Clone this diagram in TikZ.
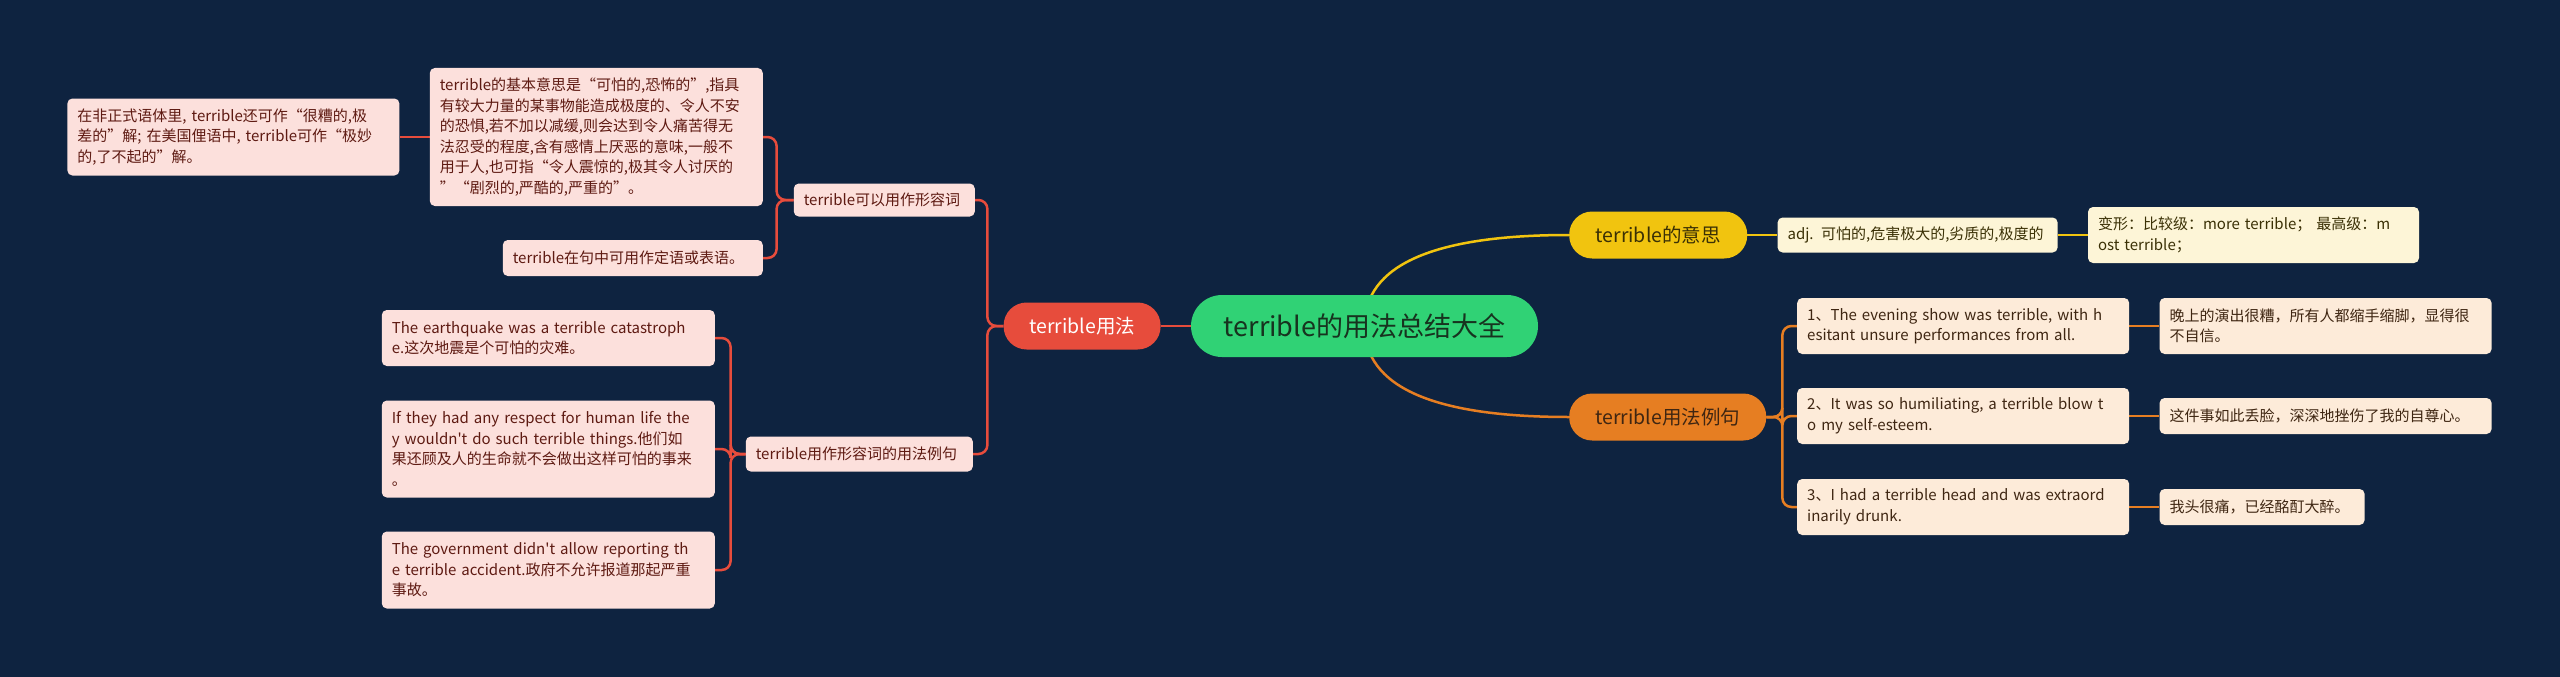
\documentclass[tikz,border=0pt]{standalone}
\usepackage{fontspec}
\setmainfont{Noto Sans CJK SC}[Ligatures=TeXOff]
\usetikzlibrary{positioning, calc}

\definecolor{bgnavy}{HTML}{0E2340}
\definecolor{rootgreen}{HTML}{30D275}
\definecolor{roottext}{HTML}{17331F}
\definecolor{redmain}{HTML}{E74C3C}
\definecolor{pinkleaf}{HTML}{FCE0DC}
\definecolor{pinktext}{HTML}{5E1A12}
\definecolor{yelmain}{HTML}{F1C40F}
\definecolor{yelleaf}{HTML}{FDF5D7}
\definecolor{yeltext}{HTML}{3A3005}
\definecolor{orgmain}{HTML}{E67E22}
\definecolor{orgleaf}{HTML}{FDEBD9}
\definecolor{orgtext}{HTML}{3F2612}

\pgfdeclarelayer{edges}
\pgfsetlayers{edges,main}

\tikzset{
  leaf/.style 2 args={rounded corners=5pt, align=left, inner xsep=10pt,
    inner ysep=0pt, text width=#1, minimum height=#2,
    font=\fontsize{15}{20.5}\selectfont}
}

\begin{document}
\begin{tikzpicture}[x=1pt, y=-1pt,
    node distance=30pt,
    topic/.style={fill=rootgreen, text=roottext, rounded corners=31pt,
      minimum width=347pt, minimum height=62pt, inner sep=0pt,
      font=\fontsize{27}{32}\selectfont},
    branch/.style={rounded corners=23pt, minimum height=47pt, inner sep=0pt,
      font=\fontsize{19.5}{23}\selectfont},
    pk/.style={fill=pinkleaf, text=pinktext},
    yl/.style={fill=yelleaf, text=yeltext},
    og/.style={fill=orgleaf, text=orgtext},
    lnR/.style={draw=redmain, line width=2.5pt, rounded corners=9pt},
    lnY/.style={draw=yelmain, line width=2.5pt},
    lnO/.style={draw=orgmain, line width=2.5pt, rounded corners=9pt}
  ]
    % centre
    \node[topic] (root) at (1364.5,326) {terrible的用法总结大全};
    \node[branch, fill=redmain, text=white, minimum width=157pt, left=of root] (usage) {terrible用法};
    \node[branch, fill=yelmain, text=yeltext, minimum width=178pt, anchor=west] (meaning) at (1569,235) {terrible的意思};
    \node[branch, fill=orgmain, text=orgtext, minimum width=197pt, anchor=west] (sample) at (1569,417) {terrible用法例句};

    % left branch
    \node[leaf={161pt}{33pt}, pk, anchor=east] (adjuse) at (975,200) {terrible可以用作形容词};
    \node[leaf={313pt}{138pt}, pk, anchor=east] (basic) at (763,137)
      {terrible的基本意思是“可怕的,恐怖的”,指具\\有较大力量的某事物能造成极度的、令人不安\\的恐惧,若不加以减缓,则会达到令人痛苦得无\\法忍受的程度,含有感情上厌恶的意味,一般不\\用于人,也可指“令人震惊的,极其令人讨厌的\\”“剧烈的,严酷的,严重的”。};
    \node[leaf={312pt}{77pt}, pk, left=of basic] (informal)
      {在非正式语体里, terrible还可作“很糟的,极\\差的”解; 在美国俚语中, terrible可作“极妙\\的,了不起的”解。};
    \node[leaf={240pt}{36pt}, pk, anchor=east] (attrib) at (763,258) {terrible在句中可用作定语或表语。};
    \node[leaf={207pt}{35pt}, pk, anchor=east] (adjex) at (973,454) {terrible用作形容词的用法例句};
    \node[leaf={313pt}{56pt}, pk, anchor=east] (quake) at (715,338)
      {The earthquake was a terrible catastroph\\e.这次地震是个可怕的灾难。};
    \node[leaf={313pt}{97pt}, pk, anchor=east] (respect) at (715,449)
      {If they had any respect for human life the\\y wouldn't do such terrible things.他们如\\果还顾及人的生命就不会做出这样可怕的事来\\。};
    \node[leaf={313pt}{77pt}, pk, anchor=east] (govt) at (715,570)
      {The government didn't allow reporting th\\e terrible accident.政府不允许报道那起严重\\事故。};

    % right branches
    \node[leaf={260pt}{35pt}, yl, right=of meaning] (adj) {adj. 可怕的,危害极大的,劣质的,极度的};
    \node[leaf={311pt}{56pt}, yl, right=of adj] (forms) {变形：比较级：more terrible；  最高级：m\\ost terrible；};
    \node[leaf={312pt}{56pt}, og, anchor=west] (ex1) at (1797,326)
      {1、The evening show was terrible, with h\\esitant unsure performances from all.};
    \node[leaf={312pt}{56pt}, og, anchor=west] (ex2) at (1797,416)
      {2、It was so humiliating, a terrible blow t\\o my self-esteem.};
    \node[leaf={312pt}{56pt}, og, anchor=west] (ex3) at (1797,507)
      {3、I had a terrible head and was extraord\\inarily drunk.};
    \node[leaf={312pt}{56pt}, og, right=of ex1] (tr1) {晚上的演出很糟，所有人都缩手缩脚，显得很\\不自信。};
    \node[leaf={312pt}{36pt}, og, right=of ex2] (tr2) {这件事如此丢脸，深深地挫伤了我的自尊心。};
    \node[leaf={185pt}{36pt}, og, right=of ex3] (tr3) {我头很痛，已经酩酊大醉。};

    \coordinate (ky) at (root.center |- meaning.west);
    \coordinate (ko) at (root.center |- sample.west);

    \begin{pgfonlayer}{edges}
      \fill[bgnavy] (0,0) rectangle (2560,677);
      \draw[lnR] (root.west) -- (usage.east);
      \draw[lnR] (usage.west) -- ++(-16,0) |- (adjuse.east);
      \draw[lnR] (usage.west) -- ++(-16,0) |- (adjex.east);
      \draw[lnR] (adjuse.west) -- ++(-17,0) |- (basic.east);
      \draw[lnR] (adjuse.west) -- ++(-17,0) |- (attrib.east);
      \draw[lnR] (basic.west) -- (informal.east);
      \draw[lnR] (adjex.west) -- ++(-15,0) |- (quake.east);
      \draw[lnR] (adjex.west) -- ++(-15,0) |- (respect.east);
      \draw[lnR] (adjex.west) -- ++(-15,0) |- (govt.east);
      \draw[lnY] (root.center) .. controls ($(root.center)!.667!(ky)$) and ($(meaning.west)!.667!(ky)$) .. (meaning.west);
      \draw[lnY] (meaning.east) -- (adj.west);
      \draw[lnY] (adj.east) -- (forms.west);
      \draw[lnO, rounded corners=0pt] (root.center) .. controls ($(root.center)!.667!(ko)$) and ($(sample.west)!.667!(ko)$) .. (sample.west);
      \draw[lnO] (sample.east) -- ++(16,0) |- (ex1.west);
      \draw[lnO] (sample.east) -- ++(16,0) |- (ex2.west);
      \draw[lnO] (sample.east) -- ++(16,0) |- (ex3.west);
      \draw[lnO] (ex1.east) -- (tr1.west);
      \draw[lnO] (ex2.east) -- (tr2.west);
      \draw[lnO] (ex3.east) -- (tr3.west);
    \end{pgfonlayer}
    \useasboundingbox (0,0) rectangle (2560,677);
\end{tikzpicture}
\end{document}
